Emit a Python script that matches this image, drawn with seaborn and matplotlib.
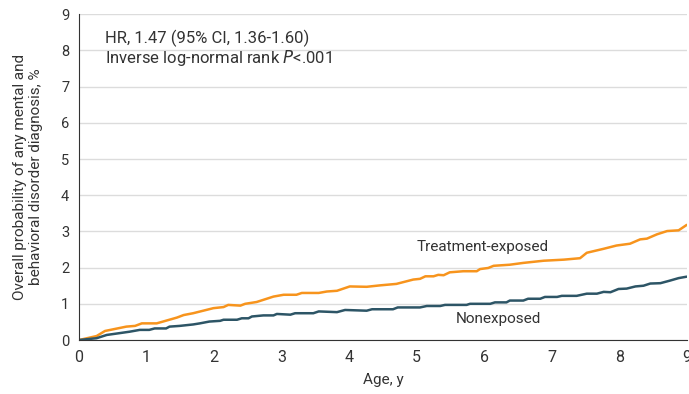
import matplotlib
matplotlib.use("Agg")
import matplotlib.pyplot as plt
import pandas as pd
import seaborn as sns

# cumulative probability (%), by age in years
exposed_age = [0, 0.26, 0.385, 0.70, 0.83, 0.93, 1.15, 1.45, 1.55, 1.69, 1.99, 2.14, 2.21,
               2.39, 2.46, 2.63, 2.88, 3.03, 3.22, 3.30, 3.55, 3.67, 3.82, 4.01, 4.26, 4.46,
               4.70, 4.95, 5.05, 5.13, 5.25, 5.32, 5.40, 5.49, 5.69, 5.89, 5.94, 6.06, 6.14,
               6.38, 6.58, 6.73, 6.88, 7.18, 7.42, 7.52, 7.77, 7.96, 8.16, 8.31, 8.41, 8.56,
               8.71, 8.88, 9.0]
exposed_prob = [0, 0.11, 0.25, 0.37, 0.39, 0.46, 0.46, 0.62, 0.69, 0.74, 0.88, 0.91, 0.97,
                0.95, 1.00, 1.05, 1.20, 1.25, 1.25, 1.30, 1.30, 1.34, 1.36, 1.48, 1.47, 1.51,
                1.55, 1.67, 1.69, 1.76, 1.76, 1.80, 1.79, 1.87, 1.90, 1.90, 1.96, 1.99, 2.05,
                2.08, 2.13, 2.16, 2.19, 2.22, 2.26, 2.41, 2.52, 2.61, 2.66, 2.78, 2.80, 2.92,
                3.01, 3.03, 3.18]

nonexposed_age = [0, 0.26, 0.41, 0.60, 0.75, 0.90, 1.04, 1.12, 1.29, 1.34, 1.49, 1.69, 1.79,
                  1.93, 2.09, 2.14, 2.34, 2.41, 2.51, 2.56, 2.73, 2.88, 2.93, 3.13, 3.20, 3.47,
                  3.55, 3.82, 3.94, 4.26, 4.34, 4.65, 4.72, 5.05, 5.15, 5.35, 5.42, 5.74, 5.79,
                  6.09, 6.16, 6.33, 6.38, 6.58, 6.65, 6.83, 6.90, 7.08, 7.15, 7.37, 7.52, 7.67,
                  7.77, 7.87, 7.99, 8.11, 8.24, 8.36, 8.46, 8.61, 8.75, 8.88, 9.0]
nonexposed_prob = [0, 0.05, 0.14, 0.19, 0.23, 0.28, 0.28, 0.32, 0.32, 0.37, 0.39, 0.43, 0.46,
                   0.51, 0.53, 0.56, 0.56, 0.60, 0.60, 0.65, 0.68, 0.68, 0.72, 0.70, 0.74, 0.74,
                   0.79, 0.77, 0.83, 0.81, 0.85, 0.85, 0.90, 0.90, 0.94, 0.94, 0.97, 0.97, 1.00,
                   1.00, 1.04, 1.04, 1.09, 1.09, 1.14, 1.14, 1.19, 1.19, 1.22, 1.22, 1.28, 1.28,
                   1.33, 1.32, 1.41, 1.42, 1.48, 1.50, 1.56, 1.57, 1.64, 1.71, 1.75]

groups = ["Treatment-exposed", "Nonexposed"]
colors = {"Treatment-exposed": "#F7941D", "Nonexposed": "#2D5566"}

df = pd.concat([
    pd.DataFrame({"age": exposed_age, "prob": exposed_prob, "group": groups[0]}),
    pd.DataFrame({"age": nonexposed_age, "prob": nonexposed_prob, "group": groups[1]}),
])

sns.set_style("white")
plt.rcParams["font.family"] = ["Roboto", "DejaVu Sans"]
txt = "#333333"

fig = plt.figure(figsize=(6.89, 3.94), dpi=100)
ax = fig.add_axes([0.1147, 0.137, 0.882, 0.827])

sns.lineplot(data=df, x="age", y="prob", hue="group", palette=colors,
             linewidth=1.8, legend=False, ax=ax, estimator=None, sort=False)

ax.set_xlim(0, 9)
ax.set_ylim(0, 9)
ax.set_xticks(range(10))
ax.set_yticks(range(10))
ax.grid(axis="y", color="#dcdcdc", linewidth=1)
ax.set_axisbelow(True)
for s in ["top", "right"]:
    ax.spines[s].set_visible(False)
ax.spines["left"].set_color(txt)
ax.spines["bottom"].set_color(txt)
ax.tick_params(axis="both", length=4, width=0.8, color=txt, labelcolor=txt, direction="out")
ax.tick_params(axis="x", labelsize=11.5, pad=3)
ax.tick_params(axis="y", labelsize=10.5, pad=3)

ax.set_xlabel("Age, y", fontsize=11, color=txt, labelpad=6)
ax.set_ylabel("Overall probability of any mental and\nbehavioral disorder diagnosis, %",
              fontsize=11, color=txt, linespacing=1.2, labelpad=13)

ax.text(0.385, 8.33, "HR, 1.47 (95% CI, 1.36-1.60)", fontsize=12, color=txt, va="center")
ax.text(0.385, 7.78, "Inverse log-normal rank $\\it{P}$<.001", fontsize=12, color=txt,
        va="center")
ax.text(5.0, 2.58, "Treatment-exposed", fontsize=11, color=txt, va="center")
ax.text(5.58, 0.58, "Nonexposed", fontsize=11, color=txt, va="center")

fig.savefig("out.png", dpi=100)
